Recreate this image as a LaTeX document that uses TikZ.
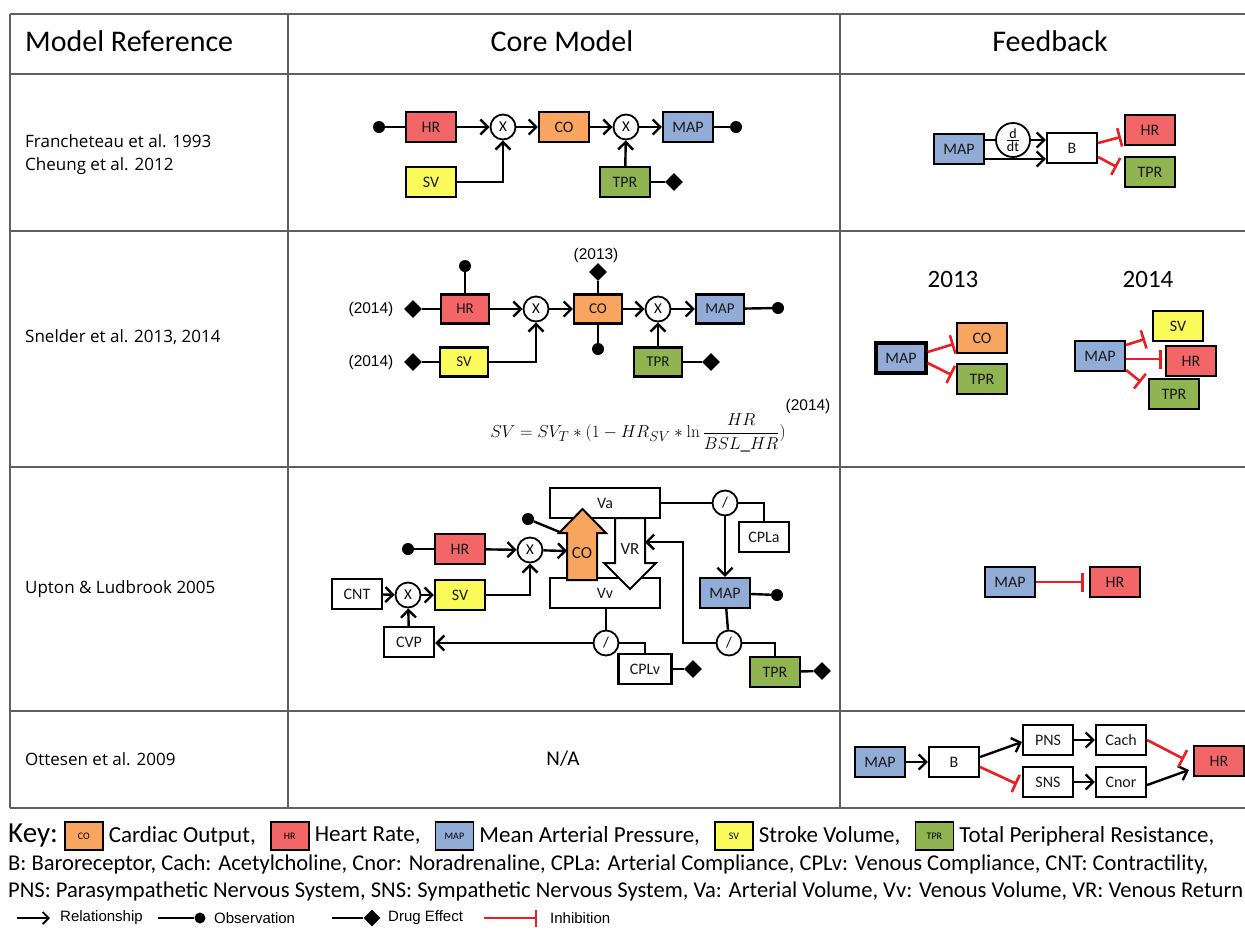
\documentclass[tikz,border=0pt]{standalone}
\usepackage[no-math]{fontspec}
\setmainfont{Carlito}
\newfontfamily\arialf{Liberation Sans}
\newfontfamily\segf{Open Sans}
\usetikzlibrary{arrows.meta,shapes.geometric,calc,positioning}
\newcommand\myfs[1]{\fontsize{#1}{#1}\selectfont}
\definecolor{hrc}{RGB}{243,102,104}
\definecolor{coc}{RGB}{248,165,96}
\definecolor{mapc}{RGB}{145,172,214}
\definecolor{svc}{RGB}{250,250,90}
\definecolor{tprc}{RGB}{143,180,80}
\definecolor{inh}{RGB}{235,30,35}
\definecolor{tblc}{RGB}{95,95,95}
\begin{document}
\begin{tikzpicture}[x=1pt,y=-1pt,
  tbl/.style={draw=tblc, line width=1.6pt},
  box/.style={draw=black, line width=2.2pt, minimum width=50pt, minimum height=30pt, inner sep=0pt, text=black!90, font=\myfs{16}},
  hrb/.style={box, fill=hrc}, cob/.style={box, fill=coc}, mapb/.style={box, fill=mapc},
  svb/.style={box, fill=svc}, tprb/.style={box, fill=tprc}, wb/.style={box, fill=white},
  op/.style={circle, draw=black, line width=1.8pt, fill=white, minimum size=25pt, inner sep=0pt, font=\myfs{15}},
  obsdot/.style={circle, fill=black, minimum size=12pt, inner sep=0pt},
  drugdm/.style={diamond, fill=black, minimum size=18pt, inner sep=0pt},
  conn/.style={line width=2.4pt},
  rel/.style={line width=2.4pt, -{Straight Barb[length=7.5pt,width=15pt,line width=2.4pt]}},
  inhib/.style={draw=inh, line width=2.6pt, -{Bar[width=19pt,line width=2.6pt]}},
  yr/.style={font=\arialf\myfs{15.5}, inner sep=0pt},
  rowlab/.style={anchor=west, inner sep=0pt, font=\segf\myfs{17}},
  sw/.style={draw=black, line width=1.6pt, minimum width=38pt, minimum height=28pt, inner sep=0pt, font=\myfs{10}},
  kt/.style={anchor=west, inner sep=0pt, font=\myfs{23}},
  lgt/.style={anchor=west, inner sep=0pt, font=\arialf\myfs{15}},
]
\useasboundingbox[fill=white] (0,0) rectangle (1245,930);

% ---------------- table ----------------
\draw[tbl] (10,14) -- (1245,14);
\draw[tbl, line width=2.4pt] (10,74) -- (1245,74);
\draw[tbl] (10,231) -- (1245,231);
\draw[tbl] (10,467) -- (1245,467);
\draw[tbl] (10,711) -- (1245,711);
\draw[tbl] (10,808) -- (1245,808);
\draw[tbl] (10,14) -- (10,808);
\draw[tbl] (288,14) -- (288,808);
\draw[tbl] (840,14) -- (840,808);

\node[anchor=west, inner sep=0pt, font=\myfs{30}] (h1) at (25,41) {Model Reference};
\node[inner sep=0pt, font=\myfs{30}] (h2) at (562,41) {Core Model};
\node[inner sep=0pt, font=\myfs{30}] (h3) at (1050,41) {Feedback};

\node[rowlab] (r1a) at (25,141) {Francheteau et al. 1993};
\node[rowlab] (r1b) at (25,166) {Cheung et al. 2012};
\node[rowlab] (r2) at (25,337) {Snelder et al. 2013, 2014};
\node[rowlab] (r3) at (25,589) {Upton \& Ludbrook 2005};
\node[rowlab] (r4) at (25,759) {Ottesen et al. 2009};

% ---------------- row 1 core ----------------
\node[obsdot] (o1a) at (379,127) {};
\node[hrb] (HR1) at (431,127) {HR};
\node[op] (X1a) at (503,127) {X};
\node[cob] (CO1) at (564,127) {CO};
\node[op] (X1b) at (626,127) {X};
\node[mapb] (MAP1) at (688,127) {MAP};
\node[obsdot] (o1b) at (736,127) {};
\node[svb] (SV1) at (431,182) {SV};
\node[tprb] (TPR1) at (625,182) {TPR};
\node[drugdm] (d1) at (674,182) {};
\draw[conn] (o1a) -- (HR1);
\draw[rel] (HR1) -- (X1a);
\draw[rel] (SV1) -| (X1a);
\draw[rel] (X1a) -- (CO1);
\draw[rel] (CO1) -- (X1b);
\draw[rel] (TPR1) -- (X1b);
\draw[rel] (X1b) -- (MAP1);
\draw[conn] (MAP1) -- (o1b);
\draw[conn] (TPR1) -- (d1);

% ---------------- row 1 feedback ----------------
\node[mapb] (MAPf1) at (959,149) {MAP};
\node[op, minimum size=34pt, font=\myfs{14}] (ddt) at (1013,140) {$\frac{\mbox{d}}{\mbox{dt}}$};
\node[wb] (B1) at (1072,148) {B};
\node[hrb] (HRf1) at (1150,130) {HR};
\node[tprb] (TPRf1) at (1150,172) {TPR};
\draw[conn] (ddt.west -| MAPf1.east) -- (ddt.west);
\draw[rel] (ddt.east) -- (ddt.east -| B1.west);
\draw[rel] ($(MAPf1.east)+(0,10)$) -- ($(B1.west)+(0,11)$);
\draw[inhib] ($(B1.east)+(0,-5)$) -- ($(HRf1.west)+(-3,7)$);
\draw[inhib] ($(B1.east)+(0,9)$) -- ($(TPRf1.west)+(-7,-5)$);

% ---------------- row 2 core ----------------
\node[yr] (y14a) at (371,309) {(2014)};
\node[drugdm] (d2a) at (413,309) {};
\node[hrb, minimum width=48pt, minimum height=29pt, font=\myfs{15}] (HR2) at (465,309) {HR};
\node[obsdot] (o2a) at (465,266) {};
\node[op] (X2a) at (536,309) {X};
\node[cob, minimum width=48pt, minimum height=29pt, font=\myfs{15}] (CO2) at (598,309) {CO};
\node[drugdm] (d2b) at (598,272) {};
\node[yr] (y13) at (596,255) {(2013)};
\node[obsdot] (o2b) at (598,349) {};
\node[op] (X2b) at (658,309) {X};
\node[mapb, minimum width=48pt, minimum height=29pt, font=\myfs{15}] (MAP2) at (720,309) {MAP};
\node[obsdot] (o2c) at (778,308) {};
\node[yr] (y14b) at (371,362) {(2014)};
\node[drugdm] (d2c) at (413,362) {};
\node[svb, minimum width=48pt, minimum height=29pt, font=\myfs{15}] (SV2) at (464,362) {SV};
\node[tprb, minimum width=48pt, minimum height=29pt, font=\myfs{15}] (TPR2) at (658,362) {TPR};
\node[drugdm] (d2d) at (711,362) {};
\draw[conn] (d2a) -- (HR2);
\draw[conn] (HR2) -- (o2a);
\draw[rel] (HR2) -- (X2a);
\draw[rel] (SV2) -| (X2a);
\draw[conn] (d2c) -- (SV2);
\draw[rel] (X2a) -- (CO2);
\draw[conn] (CO2) -- (d2b);
\draw[conn] (CO2) -- (o2b);
\draw[rel] (CO2) -- (X2b);
\draw[rel] (TPR2) -- (X2b);
\draw[conn] (TPR2) -- (d2d);
\draw[rel] (X2b) -- (MAP2);
\draw[conn] (MAP2) -- (o2c);
\node[font=\myfs{19}] (eq) at (638,433) {${\displaystyle SV = SV_T \ast (1 - HR_{SV} \ast \ln\frac{HR}{BSL\_HR})}$};
\node[yr] (y14c) at (808,406) {(2014)};

% ---------------- row 2 feedback ----------------
\node[font=\myfs{25}] (t13) at (953,279) {2013};
\node[font=\myfs{25}] (t14) at (1148,279) {2014};
\node[mapb, line width=3.2pt] (MAPa) at (901,358) {MAP};
\node[cob] (COa) at (982,338) {CO};
\node[tprb] (TPRa) at (982,379) {TPR};
\draw[inhib] ($(MAPa.east)+(0,-6)$) -- ($(COa.west)+(-2,6)$);
\draw[inhib] ($(MAPa.east)+(0,5)$) -- ($(TPRa.west)+(-4,-4)$);
\node[mapb] (MAPb) at (1100,356) {MAP};
\node[svb] (SVb) at (1178,326) {SV};
\node[hrb] (HRb) at (1191,361) {HR};
\node[tprb] (TPRb) at (1174,394) {TPR};
\draw[inhib] ($(MAPb.east)+(0,-11)$) -- ($(SVb.west)+(-7,13)$);
\draw[inhib] ($(MAPb.east)+(0,3)$) -- ($(HRb.west)+(-3,-2)$);
\draw[inhib] ($(MAPb.east)+(0,14)$) -- ($(TPRb.west)+(-7,-12)$);

% ---------------- row 3 core ----------------
\node[wb] (Va) at (605,503) [minimum width=110pt] {Va};
\node[wb] (Vv) at (605,593) [minimum width=110pt] {Vv};
\draw[line width=2pt, fill=coc] (567,580) -- (567,533) -- (559,533) -- (582.5,509) -- (606,533) -- (597,533) -- (597,580) -- cycle;
\draw[line width=2pt, fill=white] (615,518) -- (615,563) -- (604,563) -- (630,589) -- (656,563) -- (645,563) -- (645,518) -- cycle;
\node[inner sep=0pt, text=black!90, font=\myfs{17}] (COl) at (582,553) {CO};
\node[inner sep=0pt, text=black!90, font=\myfs{17}] (VRl) at (630,549) {VR};
\coordinate (coL) at (562,533);
\coordinate (coIn) at (567,551);
\coordinate (vrIn) at (645,542);
\coordinate (vrC) at (683,542);

\node[obsdot] (o3a) at (408,549) {};
\node[hrb] (HR3) at (460,549) {HR};
\node[op] (X3a) at (530,550) {X};
\node[wb] (CNT3) at (357,594) {CNT};
\node[op] (X3b) at (408,595) {X};
\node[svb] (SV3) at (460,595) {SV};
\node[wb] (CVP3) at (409,642) {CVP};
\node[obsdot] (o3b) at (528,519) {};
\draw[conn] (o3a) -- (HR3);
\draw[rel] (HR3) -- (X3a);
\draw[rel] (SV3) -| (X3a);
\draw[rel] (CNT3) -- (X3b);
\draw[rel] (X3b) -- (SV3);
\draw[rel] (CVP3) -- (X3b);
\draw[rel] (X3a) -- (coIn);
\draw[conn] (o3b) -- (coL);

\node[op] (div1) at (725,503) {/};
\node[wb] (CPLa) at (764,537) {CPLa};
\node[mapb] (MAP3) at (725,593) {MAP};
\node[obsdot] (o3c) at (777,595) {};
\node[op] (div2) at (606,643) {/};
\node[wb, minimum width=53pt] (CPLv) at (645,669) {CPLv};
\node[drugdm] (d3a) at (693,669) {};
\node[op] (div3) at (729,643) {/};
\node[tprb] (TPR3) at (775,672) {TPR};
\node[drugdm] (d3b) at (822,671) {};
\draw[conn] (Va) -- (div1);
\draw[conn] (div1.east) -| (CPLa.north);
\draw[rel] (div1) -- (MAP3);
\draw[conn] (MAP3) -- (o3c);
\draw[conn] (MAP3) -- (div3);
\draw[conn] (div3.east) -| (TPR3.north);
\draw[conn] (TPR3) -- (d3b);
\draw[rel] (div3.west) -| (vrC) -- (vrIn);
\draw[conn] (div2 |- Vv.south) -- (div2);
\draw[conn] (div2.east) -| (CPLv.north);
\draw[conn] (CPLv) -- (d3a);
\draw[rel] (div2.west) -- (div2.west -| CVP3.east);

% ---------------- row 3 feedback ----------------
\node[mapb] (MAPf3) at (1010,582) {MAP};
\node[hrb] (HRf3) at (1115,582) {HR};
\draw[inhib] (MAPf3) -- ($(HRf3.west)+(-5,0)$);

% ---------------- row 4 ----------------
\node[inner sep=0pt, font=\myfs{21}] (na) at (563,759) {N/A};
\node[mapb] (MAPf4) at (880,762) {MAP};
\node[wb] (B4) at (954,762) {B};
\node[wb] (PNS) at (1048,740) {PNS};
\node[wb] (Cach) at (1121,740) {Cach};
\node[wb] (SNS) at (1048,782) {SNS};
\node[wb] (Cnor) at (1121,782) {Cnor};
\node[hrb] (HRf4) at (1219,761) {HR};
\draw[rel] (MAPf4) -- (B4);
\draw[rel] ($(B4.east)+(0,-5)$) -- ($(PNS.west)+(0,2)$);
\draw[rel] (PNS) -- (Cach);
\draw[rel] (SNS) -- (Cnor);
\draw[rel] ($(Cnor.east)+(0,3)$) -- ($(HRf4.west)+(-4,9)$);
\draw[inhib] ($(B4.east)+(0,5)$) -- ($(SNS.west)+(-5,2)$);
\draw[inhib] ($(Cach.east)+(0,0)$) -- ($(HRf4.west)+(-9,-2)$);

% ---------------- key ----------------
\node[anchor=west, inner sep=0pt, font=\myfs{29}] (key) at (8,836) {Key:};
\node[sw, fill=coc, right=6pt of key] (kCO) {CO};
\node[kt, right=5pt of kCO] (tCO) {Cardiac Output,};
\node[sw, fill=hrc, right=14pt of tCO] (kHR) {HR};
\node[kt, right=5pt of kHR] (tHR) {Heart Rate,};
\node[sw, fill=mapc, right=14pt of tHR] (kMAP) {MAP};
\node[kt, right=5pt of kMAP] (tMAP) {Mean Arterial Pressure,};
\node[sw, fill=svc, right=14pt of tMAP] (kSV) {SV};
\node[kt, right=5pt of kSV] (tSV) {Stroke Volume,};
\node[sw, fill=tprc, right=14pt of tSV] (kTPR) {TPR};
\node[kt, right=5pt of kTPR] (tTPR) {Total Peripheral Resistance,};
\node[anchor=west, inner sep=0pt] (kl2) at (8,864) {\resizebox{1200pt}{!}{\myfs{21}B: Baroreceptor, Cach: Acetylcholine, Cnor: Noradrenaline, CPLa: Arterial Compliance, CPLv: Venous Compliance, CNT: Contractility,}};
\node[anchor=west, inner sep=0pt] (kl3) at (8,891) {\resizebox{1235pt}{!}{\myfs{21}PNS: Parasympathetic Nervous System, SNS: Sympathetic Nervous System, Va: Arterial Volume, Vv: Venous Volume, VR: Venous Return}};

\coordinate (lgA1) at (17,918);
\coordinate (lgA2) at (50,918);
\draw[line width=1.8pt, -{Straight Barb[length=6pt,width=12pt,line width=1.8pt]}] (lgA1) -- (lgA2);
\node[lgt] (lgAt) at (60,918) {Relationship};
\coordinate (lgB1) at (158,918);
\node[obsdot, minimum size=11pt] (lgB2) at (200,918) {};
\draw[line width=2.2pt] (lgB1) -- (lgB2);
\node[lgt] (lgBt) at (214,918) {Observation};
\coordinate (lgC1) at (332,918);
\node[drugdm, minimum size=17pt] (lgC2) at (372,918) {};
\draw[line width=2.2pt] (lgC1) -- (lgC2);
\node[lgt] (lgCt) at (388,918) {Drug Effect};
\coordinate (lgD1) at (484,918);
\coordinate (lgD2) at (537,918);
\draw[draw=inh, line width=2pt, -{Bar[width=17pt,line width=2pt]}] (lgD1) -- (lgD2);
\node[lgt] (lgDt) at (550,918) {Inhibition};
\end{tikzpicture}
\end{document}
